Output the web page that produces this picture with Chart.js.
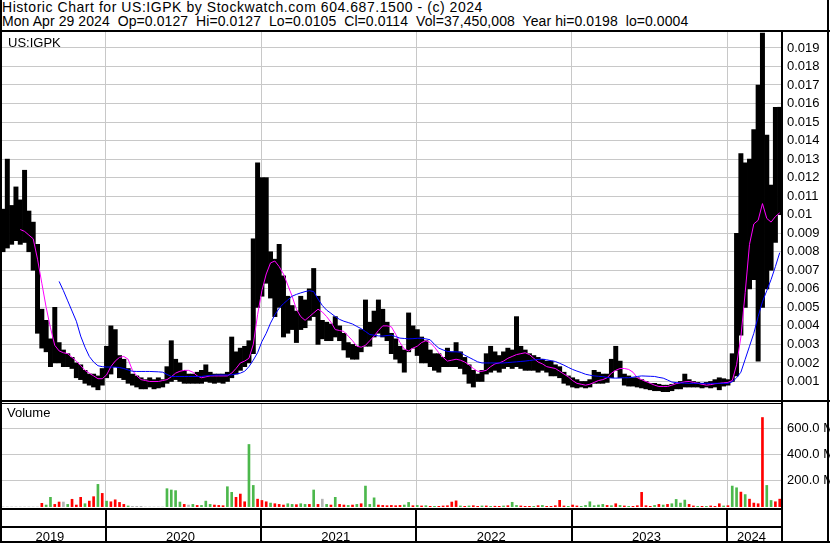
<!DOCTYPE html>
<html>
<head>
<meta charset="utf-8">
<script src="https://cdn.jsdelivr.net/npm/chart.js@4.4.1/dist/chart.umd.min.js"></script>
<style>
body { margin:0; width:830px; height:543px; position:relative; overflow:hidden; background:#fff; font-family:Arial, "Liberation Sans", sans-serif; }
.txt { position:absolute; color:#000; white-space:pre; font-size:14px; }
.ln { position:absolute; background:#000; }
canvas { position:absolute; left:0; }
</style>
</head>
<body>
<div class="txt" style="left:2px;top:0px;line-height:14px;letter-spacing:0.55px">Historic Chart for US:IGPK by Stockwatch.com 604.687.1500 - (c) 2024</div>
<div class="txt" style="left:2px;top:14px;line-height:14px;letter-spacing:0.08px">Mon Apr 29 2024  Op=0.0127  Hi=0.0127  Lo=0.0105  Cl=0.0114  Vol=37,450,008  Year hi=0.0198  lo=0.0004</div>

<canvas id="price" width="830" height="368" style="top:32px"></canvas>
<canvas id="vol" width="830" height="140" style="top:403px"></canvas>

<div class="txt" style="left:8px;top:35px;font-size:13px">US:IGPK</div>
<div class="txt" style="left:7px;top:405px;font-size:13px">Volume</div>

<div class="ln" style="left:0;top:30px;width:830px;height:2px"></div>
<div class="ln" style="left:0;top:0;width:2px;height:543px"></div>
<div class="ln" style="left:827px;top:0;width:2px;height:543px"></div>
<div class="ln" style="left:781px;top:32px;width:2px;height:511px"></div>
<div class="ln" style="left:0;top:400px;width:830px;height:2px"></div>
<div class="ln" style="left:0;top:403px;width:782px;height:1px"></div>
<div class="ln" style="left:0;top:508px;width:782px;height:2px"></div>
<div class="ln" style="left:0;top:526px;width:782px;height:2px"></div>
<div class="ln" style="left:0;top:541px;width:830px;height:2px"></div>

<script>
// one bar per ~10 days, starting late April 2019 (values x 0.001)
const firstPeriod = 2019.3383;
const periodLen = 1 / 36;

const hi = [
  10.3,13.0,10.5,11.5,10.8,12.4,10.2,9.6,8.4,4.9,
  4.3,3.3,5.0,3.1,2.7,2.5,2.3,2.0,1.9,1.6,
  1.4,1.4,1.3,1.7,2.9,4.0,3.8,2.4,2.2,1.7,
  1.4,1.3,1.2,1.1,1.2,1.1,1.2,1.1,1.8,3.2,
  2.2,2.0,1.6,1.4,1.4,1.5,1.6,1.9,1.5,1.4,
  1.4,1.4,1.5,3.4,2.6,2.8,2.9,3.2,8.7,12.8,
  12.0,12.0,8.0,7.6,8.4,6.7,5.6,5.1,4.8,5.6,
  5.4,6.0,7.1,5.6,4.3,4.2,4.1,4.5,4.0,3.6,
  3.1,3.0,2.9,3.8,5.4,4.2,4.8,5.4,4.9,4.2,
  3.6,3.3,2.9,2.7,4.7,4.0,3.8,3.4,3.2,2.7,
  2.5,2.5,2.3,2.8,2.6,3.1,2.6,2.3,1.9,1.6,
  1.4,1.6,2.5,2.9,2.6,2.4,2.6,2.8,2.7,4.5,
  2.9,2.7,2.5,2.4,2.3,2.2,2.1,2.1,1.9,1.8,
  1.5,1.3,1.2,1.1,1.0,1.0,1.1,1.6,1.5,1.4,
  1.4,2.2,2.9,2.1,1.4,1.3,1.2,1.2,1.1,1.0,
  0.9,0.9,0.85,0.8,0.8,0.85,0.9,1.0,1.4,1.1,
  1.0,0.95,0.9,0.95,1.0,1.1,1.2,1.15,1.1,2.5,
  9.0,13.3,12.8,13.0,14.6,17.0,19.8,14.3,11.6,15.8,15.8
];
const lo = [
  8.0,8.2,8.4,8.6,8.4,8.5,8.0,7.0,3.6,2.8,
  2.6,1.8,2.0,2.0,1.8,1.8,1.7,1.2,1.1,0.9,
  0.8,0.7,0.55,0.8,1.2,1.4,1.8,1.2,1.1,0.9,
  0.8,0.7,0.6,0.6,0.7,0.6,0.65,0.7,0.9,1.0,
  1.1,1.0,0.9,0.9,0.9,0.9,0.9,1.0,0.95,0.9,
  0.95,0.9,1.0,1.2,1.4,1.6,1.8,2.0,2.5,5.0,
  5.6,6.3,5.5,4.5,5.0,3.4,3.6,3.8,3.1,3.8,
  3.9,4.3,4.5,3.0,3.3,3.2,3.2,3.4,3.2,2.7,
  2.3,2.2,2.2,2.6,2.9,2.9,3.4,3.6,3.4,3.2,
  2.5,2.2,2.0,1.5,2.6,2.8,2.4,2.0,2.0,1.8,
  1.6,1.5,1.8,1.8,1.8,1.8,1.7,1.4,0.9,0.7,
  1.0,1.0,1.4,1.5,1.6,1.5,1.7,1.8,1.7,1.8,
  1.7,1.6,1.6,1.6,1.5,1.6,1.5,1.3,1.3,1.2,
  0.9,0.8,0.7,0.65,0.7,0.65,0.7,0.9,0.9,0.9,
  0.95,1.2,1.6,1.2,0.8,0.75,0.75,0.7,0.65,0.6,
  0.55,0.5,0.5,0.45,0.45,0.5,0.6,0.6,0.7,0.7,
  0.7,0.7,0.65,0.7,0.65,0.7,0.55,0.75,0.8,1.0,
  1.3,3.5,5.0,6.0,6.5,2.1,5.0,6.0,7.0,8.5,10.0
];
// short moving average (magenta)
const maShort = [
  null,null,null,null,9.2,9.1,8.9,8.7,7.6,6.3,
  5.0,3.9,2.95,2.65,2.55,2.5,2.3,2.1,1.85,1.6,
  1.45,1.3,1.15,1.15,1.35,1.8,2.1,2.3,2.35,2.2,
  1.6,1.3,1.1,1.05,1.0,1.0,1.0,1.05,1.1,1.25,
  1.45,1.55,1.6,1.6,1.5,1.3,1.2,1.25,1.3,1.3,
  1.3,1.3,1.3,1.45,1.7,2.0,2.1,2.25,3.0,4.6,
  5.9,6.8,7.4,7.5,7.2,6.8,6.2,5.6,4.9,4.5,
  4.3,4.5,4.7,4.9,4.75,4.5,4.2,3.8,3.75,3.7,
  3.45,3.2,2.9,2.85,2.95,3.2,3.45,3.75,4.0,4.0,
  3.95,3.55,3.1,2.75,2.65,2.8,2.9,3.1,3.2,3.1,
  2.85,2.55,2.3,2.1,2.15,2.2,2.15,2.05,1.9,1.7,
  1.55,1.55,1.6,1.8,1.95,2.0,2.1,2.25,2.35,2.45,
  2.5,2.55,2.45,2.25,2.05,1.95,1.8,1.75,1.7,1.55,
  1.4,1.25,1.05,0.9,0.85,0.8,0.85,0.95,1.05,1.1,
  1.2,1.45,1.6,1.7,1.7,1.65,1.5,1.2,1.1,1.0,
  0.9,0.8,0.73,0.73,0.73,0.8,0.88,0.93,0.98,1.0,
  0.95,0.9,0.85,0.8,0.83,0.88,0.9,0.93,0.95,1.05,
  1.9,3.4,5.8,8.4,9.5,9.7,10.6,9.8,9.6,9.9,10.1
];
// long moving average (blue)
const maLong = [
  null,null,null,null,null,null,null,null,null,null,
  null,null,null,6.4,5.9,5.35,4.8,4.25,3.45,2.85,
  2.35,2.05,1.85,1.8,1.78,1.78,1.77,1.75,1.7,1.62,
  1.55,1.54,1.54,1.54,1.54,1.53,1.52,1.5,1.38,1.27,
  1.27,1.27,1.27,1.27,1.27,1.27,1.27,1.3,1.32,1.34,
  1.35,1.35,1.35,1.36,1.4,1.45,1.55,1.8,2.15,2.55,
  3.15,3.6,4.15,4.6,4.95,5.2,5.4,5.6,5.7,5.78,
  5.85,5.9,5.85,5.45,5.1,4.85,4.68,4.5,4.35,4.25,
  4.18,4.1,3.97,3.85,3.7,3.53,3.5,3.46,3.45,3.48,
  3.5,3.42,3.34,3.32,3.3,3.31,3.33,3.33,3.3,3.25,
  3.0,2.8,2.7,2.62,2.6,2.6,2.58,2.42,2.3,2.18,
  2.06,2.0,2.0,2.0,2.0,2.0,2.0,2.02,2.04,2.06,
  2.08,2.1,2.13,2.16,2.19,2.2,2.17,2.12,2.08,1.98,
  1.88,1.76,1.65,1.56,1.48,1.39,1.34,1.3,1.28,1.26,
  1.22,1.19,1.18,1.19,1.2,1.2,1.23,1.27,1.3,1.29,
  1.28,1.27,1.22,1.18,1.08,0.97,0.94,0.92,0.91,0.9,
  0.9,0.9,0.9,0.9,0.9,0.9,0.9,0.9,0.9,0.98,
  1.2,1.5,2.2,2.9,3.6,4.5,5.3,5.9,6.5,7.2,7.95
];
// volume in millions, colour g=up r=down n=unchanged
const vol = [
  0,0,0,0,0,0,0,0,0,28,
  15,74,20,38,38,20,59,15,74,25,
  45,79,173,104,45,40,55,35,20,8,
  5,5,5,0,0,0,0,0,140,130,
  125,38,20,15,20,12,12,45,20,15,
  12,10,155,112,74,99,40,478,165,60,
  50,40,30,25,20,15,25,20,18,25,
  20,20,130,20,60,20,15,74,20,15,
  12,15,20,25,160,20,70,15,12,10,
  12,10,12,15,35,10,12,8,10,5,
  5,5,8,10,38,47,8,5,8,10,
  5,8,8,5,6,5,8,10,36,12,
  8,5,5,5,10,12,5,5,10,51,
  8,5,15,8,5,12,40,10,15,20,
  12,10,25,12,8,5,5,10,112,10,
  5,12,20,15,20,25,58,30,53,20,
  8,5,5,5,8,5,25,8,10,160,
  147,114,95,60,30,25,684,165,50,40,60
];
const volDir = (
  'nnnnnnnnnr' + 'ggrrngrrrg' + 'rrgrgrrrrg' + 'nnnnnnnngg' +
  'ggrngrgggr' + 'rrggrrrggr' + 'rrgrrrggrg' + 'grgrngrgrr' +
  'grgrgggrrr' + 'rrrggrgrgr' + 'grrrrrgrgr' + 'rgrgrrgrgg' +
  'rrrgrgrrrr' + 'rgrrgggggg' + 'rgrgrgrrrr' + 'rgrgrggggr' +
  'rgrgrrrgrg' + 'grgrrrrggrr'
).split('');

const yearLabels = ['2019', '2020', '2021', '2022', '2023', '2024'];
const priceTicks = [1,2,3,4,5,6,7,8,9,10,11,12,13,14,15,16,17,18,19];
const volTicks = [200, 400, 600];

const xMin = 2019.319, xMax = 2024.353;
const xs = hi.map((v, i) => firstPeriod + i * periodLen);
const gridCol = '#c8c8c8';
const axisFont = { family: 'Arial, "Liberation Sans", sans-serif', size: 13 };

Chart.defaults.font.family = 'Arial, "Liberation Sans", sans-serif';
Chart.defaults.color = '#000';

function xScale() {
  return {
    type: 'linear', min: xMin, max: xMax, offset: false,
    ticks: { display: false },
    grid: { color: gridCol, drawTicks: false, offset: false },
    border: { display: false },
    afterBuildTicks: s => { s.ticks = yearLabels.slice(1).map(y => ({ value: +y })); },
    afterFit: s => { s.height = 0; s.paddingLeft = 0; s.paddingRight = 0; }
  };
}

// right-hand value axis, fixed width, no label overhang padding
function fitRight(s) {
  s.width = 48;
  s.paddingTop = 0;
  s.paddingBottom = 0;
}

new Chart(document.getElementById('price'), {
  type: 'bar',
  data: {
    datasets: [
      {
        type: 'line', data: xs.map((x, i) => ({ x: x, y: maShort[i] == null ? null : maShort[i] / 1000 })),
        borderColor: '#ff00ff', borderWidth: 1, pointRadius: 0, order: 1
      },
      {
        type: 'line', data: xs.map((x, i) => ({ x: x, y: maLong[i] == null ? null : maLong[i] / 1000 })),
        borderColor: '#0000ff', borderWidth: 1, pointRadius: 0, order: 0
      },
      {
        data: xs.map((x, i) => ({ x: x, y: [lo[i] / 1000, hi[i] / 1000] })),
        backgroundColor: '#000', barPercentage: 1, categoryPercentage: 1, order: 2
      }
    ]
  },
  options: {
    responsive: false, animation: false, events: [],
    layout: { padding: 0, autoPadding: false },
    plugins: { legend: { display: false }, tooltip: { enabled: false } },
    scales: {
      x: xScale(),
      y: {
        position: 'right', min: 0, max: 0.01986,
        grid: { color: gridCol, drawTicks: false },
        border: { display: false },
        afterBuildTicks: s => { s.ticks = priceTicks.map(v => ({ value: v / 1000 })); },
        afterFit: fitRight,
        ticks: { padding: 5, autoSkip: false, font: axisFont, callback: v => String(+v.toFixed(3)) }
      }
    }
  }
});

const yearAxis = {
  id: 'yearAxis',
  afterDraw(chart) {
    const { ctx, chartArea, scales } = chart;
    const x = scales.x;
    ctx.save();
    ctx.fillStyle = '#000';
    ctx.font = '13px Arial, "Liberation Sans", sans-serif';
    ctx.textAlign = 'center';
    ctx.textBaseline = 'alphabetic';
    yearLabels.forEach((lab, k) => {
      const y0 = +lab;
      const a = Math.max(x.getPixelForValue(y0), chartArea.left);
      const b = Math.min(x.getPixelForValue(y0 + 1), chartArea.right);
      if (k > 0) ctx.fillRect(Math.round(a) - 1, chartArea.bottom + 2, 2, 40);
      ctx.fillText(lab, (a + b) / 2 - 3, chartArea.bottom + 34);
    });
    ctx.restore();
  }
};

const volCol = { g: '#4cb84c', r: '#ff0000', n: '#b4b4b4' };
new Chart(document.getElementById('vol'), {
  type: 'bar',
  data: {
    datasets: [{
      data: xs.map((x, i) => ({ x: x, y: vol[i] })),
      backgroundColor: volDir.map(c => volCol[c]),
      barThickness: 2
    }]
  },
  options: {
    responsive: false, animation: false, events: [],
    layout: { padding: { bottom: 36 }, autoPadding: false },
    plugins: { legend: { display: false }, tooltip: { enabled: false } },
    scales: {
      x: xScale(),
      y: {
        position: 'right', min: 0, max: 795,
        grid: { color: gridCol, drawTicks: false },
        border: { display: false },
        afterBuildTicks: s => { s.ticks = volTicks.map(v => ({ value: v })); },
        afterFit: fitRight,
        ticks: { padding: 5, autoSkip: false, font: axisFont, callback: v => v.toFixed(1) + ' M' }
      }
    }
  },
  plugins: [yearAxis]
});
</script>
</body>
</html>
